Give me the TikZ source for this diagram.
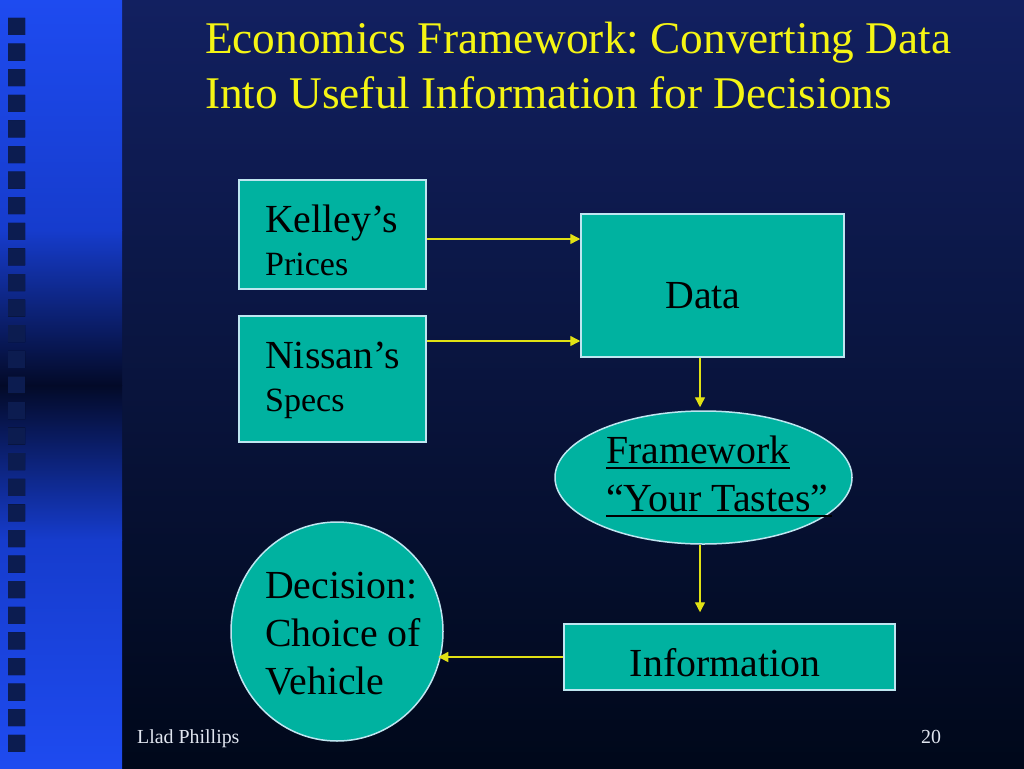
\documentclass[tikz,border=0pt]{standalone}
\usepackage{fontspec}
\setmainfont{Liberation Serif}
\usetikzlibrary{arrows.meta,shapes.geometric,calc}
\frenchspacing
\definecolor{bgtop}{RGB}{18,32,96}
\definecolor{bgbot}{RGB}{0,8,26}
\definecolor{sbright}{RGB}{30,75,240}
\definecolor{smid}{RGB}{22,60,205}
\definecolor{sdark}{RGB}{3,10,40}
\definecolor{sqdark}{RGB}{12,28,80}
\definecolor{sqmid}{RGB}{22,45,140}
\definecolor{teal}{RGB}{0,178,160}
\definecolor{edge}{RGB}{190,230,240}
\definecolor{arrowyellow}{RGB}{225,225,20}
\definecolor{titleyellow}{RGB}{245,245,20}
\definecolor{foot}{RGB}{225,230,240}
\newcommand\myul[1]{\setbox0\hbox{#1}\rlap{\rule[-6pt]{\wd0}{1.6pt}}\box0}
\begin{document}
\begin{tikzpicture}[x=1pt,y=-1pt,
  shapebox/.style={draw=edge,line width=1.5pt,fill=teal,inner sep=0pt,rectangle},
  shapeell/.style={draw=edge,line width=1.5pt,fill=teal,inner sep=0pt,ellipse},
  txt/.style={anchor=base west,inner sep=0pt,text=black},
  bigtxt/.style={txt,font=\fontsize{39.8}{46}\selectfont},
  smalltxt/.style={txt,font=\fontsize{34}{40}\selectfont},
  titletxt/.style={anchor=base west,inner sep=0pt,text=titleyellow,font=\fontsize{45.3}{55}\selectfont},
  foottxt/.style={anchor=base west,inner sep=0pt,text=foot,font=\fontsize{19.9}{24}\selectfont},
  arr/.style={draw=arrowyellow,line width=1.4pt,-{Triangle[length=10pt,width=10pt]}}]
\useasboundingbox (0,0) rectangle (1024,768);
% background
\fill[top color=bgtop,bottom color=bgbot] (0,0) rectangle (1024,768);
% left strip
\fill[top color=sbright,bottom color=smid] (0,0) rectangle (122,230.5);
\fill[top color=smid,bottom color=sdark] (0,230) rectangle (122,385.5);
\fill[top color=sdark,bottom color=smid] (0,385) rectangle (122,540.5);
\fill[top color=smid,bottom color=sbright] (0,540) rectangle (122,768);
% squares
\fill[top color=sqdark,middle color=sqmid,bottom color=sqdark]
  \foreach \i in {0,...,28} { (8,{18+25.6*\i}) rectangle ++(17,17) };
% title
\node[titletxt] (title1) at (205,53) {Economics Framework: Converting Data};
\node[titletxt] (title2) at (205,108) {Into Useful Information for Decisions};
% shapes
\node[shapebox,minimum width=187pt,minimum height=109pt] (kel) at (332.5,234.5) {};
\node[shapebox,minimum width=187pt,minimum height=126pt] (nis) at (332.5,379) {};
\node[shapebox,minimum width=263pt,minimum height=143pt] (data) at (712.5,285.5) {};
\node[shapeell,minimum width=297pt,minimum height=133pt] (fw) at (703.5,477.5) {};
\node[shapebox,minimum width=331pt,minimum height=66pt] (info) at (729.5,657) {};
\node[shapeell,minimum width=212pt,minimum height=219pt] (dec) at (337,631.5) {};
% texts
\node[bigtxt] (kel1) at (265,232) {Kelley’s};
\node[smalltxt] (kel2) at (265,275) {Prices};
\node[bigtxt] (nis1) at (265,368) {Nissan’s};
\node[smalltxt] (nis2) at (265,411) {Specs};
\node[bigtxt,anchor=base] (datat) at (703,308) {Data};
\node[bigtxt] (fw1) at (606,463) {\myul{Framework}};
\node[bigtxt] (fw2) at (606,511) {\myul{“Your Tastes”\kern4pt}};
\node[bigtxt,anchor=base] (infot) at (725,676) {Information};
\node[bigtxt] (dec1) at (265,598) {Decision:};
\node[bigtxt] (dec2) at (265,646) {Choice of};
\node[bigtxt] (dec3) at (265,694) {Vehicle};
% footer
\node[foottxt] (author) at (137,743) {Llad Phillips};
\node[foottxt] (page) at (921,743) {20};
% connectors
\coordinate (k1) at ($(kel.east)+(0,4.5)$);
\coordinate (n1) at ($(nis.east)+(0,-38)$);
\coordinate (d1) at ($(data.south)+(-12.5,0)$);
\coordinate (f1) at ($(fw.south)+(-3.5,0)$);
\draw[arr] (k1) -- (k1 -| data.west);
\draw[arr] (n1) -- (n1 -| data.west);
\draw[arr,shorten >=3pt] (d1) -- (d1 |- fw.north);
\draw[arr,shorten >=11pt] (f1) -- (f1 |- info.north);
\draw[arr,shorten >=-5.5pt] (info.west) -- (info.west -| dec.east);
\end{tikzpicture}
\end{document}
